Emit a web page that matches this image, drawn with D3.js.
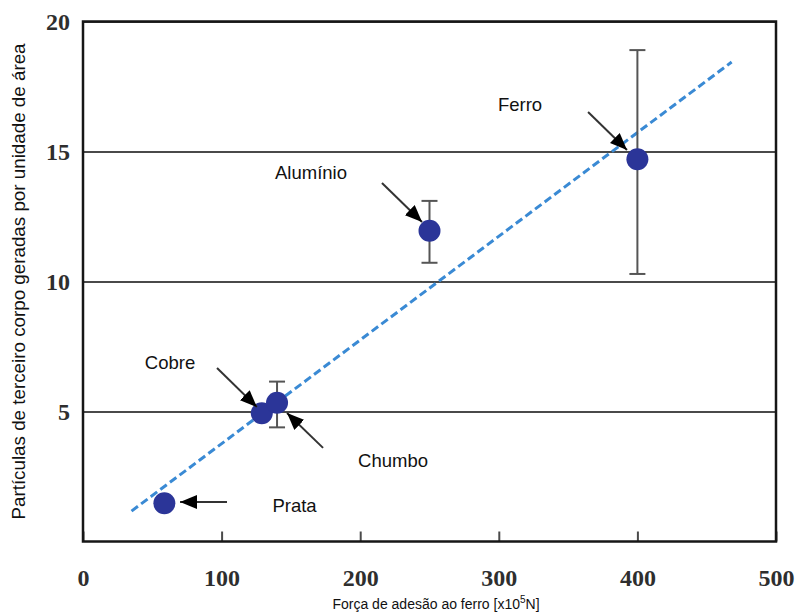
<!DOCTYPE html>
<html>
<head>
<meta charset="utf-8">
<script src="https://cdn.jsdelivr.net/npm/d3@7"></script>
<style>
  html, body { margin: 0; padding: 0; background: #fff; }
  svg { display: block; }
</style>
</head>
<body>
<svg id="chart" width="798" height="616"></svg>
<script>
// Metals: adhesion force to iron vs. third-body particles per unit area
const metals = ["Prata", "Cobre", "Chumbo", "Alumínio", "Ferro"];
const adhesion = [58.7, 129, 140, 250, 400];
const particles = [1.47, 4.93, 5.34, 11.95, 14.7];
const errLow = [null, null, 4.39, 10.72, 10.29];
const errHigh = [null, null, 6.15, 13.1, 18.9];

// Linear trend line end points (data units)
const trendX = [35, 468];
const trendY = [1.17, 18.44];

const xTicks = [0, 100, 200, 300, 400, 500];
const yTicks = [5, 10, 15, 20];

// Label anchors and arrows, in data units
const labelX = [152.6, 62.8, 223.7, 164.5, 315.3];
const labelY = [1.38, 6.87, 3.1, 14.2, 16.8];
const arrowFromX = [103.9, 96.7, 173.2, 215.7, 364.4];
const arrowFromY = [1.52, 6.67, 3.6, 13.79, 16.52];
const arrowToX = [70, 125.5, 147.2, 244.6, 392.5];
const arrowToY = [1.52, 5.17, 4.94, 12.29, 15.06];

const W = 798, H = 616;
const margin = { top: 21.5, right: 22, bottom: 74.5, left: 83 };
const w = W - margin.left - margin.right;
const h = H - margin.top - margin.bottom;

const svg = d3.select("#chart");
const defs = svg.append("defs");
defs.append("marker")
  .attr("id", "head")
  .attr("markerUnits", "userSpaceOnUse")
  .attr("markerWidth", 18).attr("markerHeight", 14)
  .attr("refX", 17).attr("refY", 7)
  .attr("orient", "auto")
  .append("path")
  .attr("d", "M0,0 L17,7 L0,14 Z")
  .attr("fill", "#000");

const g = svg.append("g").attr("transform", `translate(${margin.left},${margin.top})`);

const x = d3.scaleLinear().domain([0, 500]).range([0, w]);
const y = d3.scaleLinear().domain([0, 20]).range([h, 0]);

const tickFont = sel => sel
  .attr("fill", "#2e2e2e")
  .style("font-family", "'Liberation Serif', 'Times New Roman', serif")
  .style("font-weight", "bold")
  .style("font-size", "24px");

// Y axis with full-width grid lines
const yAxis = g.append("g")
  .call(d3.axisLeft(y).tickValues(yTicks).tickSize(-w).tickPadding(13).tickFormat(d3.format("d")));
yAxis.select(".domain").remove();
yAxis.selectAll("line").attr("stroke", "#4a4a4a").attr("stroke-width", 2);
yAxis.selectAll("text").call(tickFont);

// X axis with inward ticks
const xAxis = g.append("g")
  .attr("transform", `translate(0,${h})`)
  .call(d3.axisBottom(x).tickValues(xTicks).tickSize(-10).tickPadding(27).tickFormat(d3.format("d")));
xAxis.select(".domain").remove();
xAxis.selectAll("line").attr("stroke", "#4a4a4a").attr("stroke-width", 2);
xAxis.selectAll("text").call(tickFont);

// Plot frame
g.append("rect")
  .attr("x", 0).attr("y", 0).attr("width", w).attr("height", h)
  .attr("fill", "none").attr("stroke", "#161616").attr("stroke-width", 2.5);

// Trend line
g.append("line")
  .attr("x1", x(trendX[0])).attr("y1", y(trendY[0]))
  .attr("x2", x(trendX[1])).attr("y2", y(trendY[1]))
  .attr("stroke", "#3a8ad4").attr("stroke-width", 3)
  .attr("stroke-dasharray", "8,4");

// Error bars
const idx = d3.range(metals.length);
const eb = g.append("g").attr("stroke", "#555").attr("stroke-width", 2);
idx.filter(i => errLow[i] != null).forEach(i => {
  const cx = x(adhesion[i]);
  eb.append("line").attr("x1", cx).attr("x2", cx).attr("y1", y(errLow[i])).attr("y2", y(errHigh[i]));
  eb.append("line").attr("x1", cx - 8).attr("x2", cx + 8).attr("y1", y(errLow[i])).attr("y2", y(errLow[i]));
  eb.append("line").attr("x1", cx - 8).attr("x2", cx + 8).attr("y1", y(errHigh[i])).attr("y2", y(errHigh[i]));
});

// Points
g.append("g").selectAll("circle").data(idx).join("circle")
  .attr("cx", i => x(adhesion[i]))
  .attr("cy", i => y(particles[i]))
  .attr("r", 11)
  .attr("fill", "#2b3598");

// Arrows
g.append("g").selectAll("line").data(idx).join("line")
  .attr("x1", i => x(arrowFromX[i])).attr("y1", i => y(arrowFromY[i]))
  .attr("x2", i => x(arrowToX[i])).attr("y2", i => y(arrowToY[i]))
  .attr("stroke", "#333").attr("stroke-width", 2)
  .attr("marker-end", "url(#head)");

// Metal labels
g.append("g").selectAll("text").data(idx).join("text")
  .attr("x", i => x(labelX[i]))
  .attr("y", i => y(labelY[i]))
  .attr("text-anchor", "middle")
  .attr("dominant-baseline", "central")
  .attr("fill", "#111")
  .style("font-family", "'Liberation Sans', Arial, sans-serif")
  .style("font-size", "18.5px")
  .text(i => metals[i]);

// Axis titles
const xt = svg.append("text")
  .attr("x", 436)
  .attr("y", 609)
  .attr("text-anchor", "middle")
  .attr("fill", "#111")
  .style("font-family", "'Liberation Sans', Arial, sans-serif")
  .style("font-size", "14px");
xt.append("tspan").text("Força de adesão ao ferro [x10");
xt.append("tspan").attr("dy", -6).style("font-size", "10px").text("5");
xt.append("tspan").attr("dy", 6).text("N]");

svg.append("text")
  .attr("transform", `translate(25,${margin.top + h / 2}) rotate(-90)`)
  .attr("text-anchor", "middle")
  .attr("fill", "#111")
  .style("font-family", "'Liberation Sans', Arial, sans-serif")
  .style("font-size", "18.8px")
  .text("Partículas de terceiro corpo geradas por unidade de área");
</script>
</body>
</html>
